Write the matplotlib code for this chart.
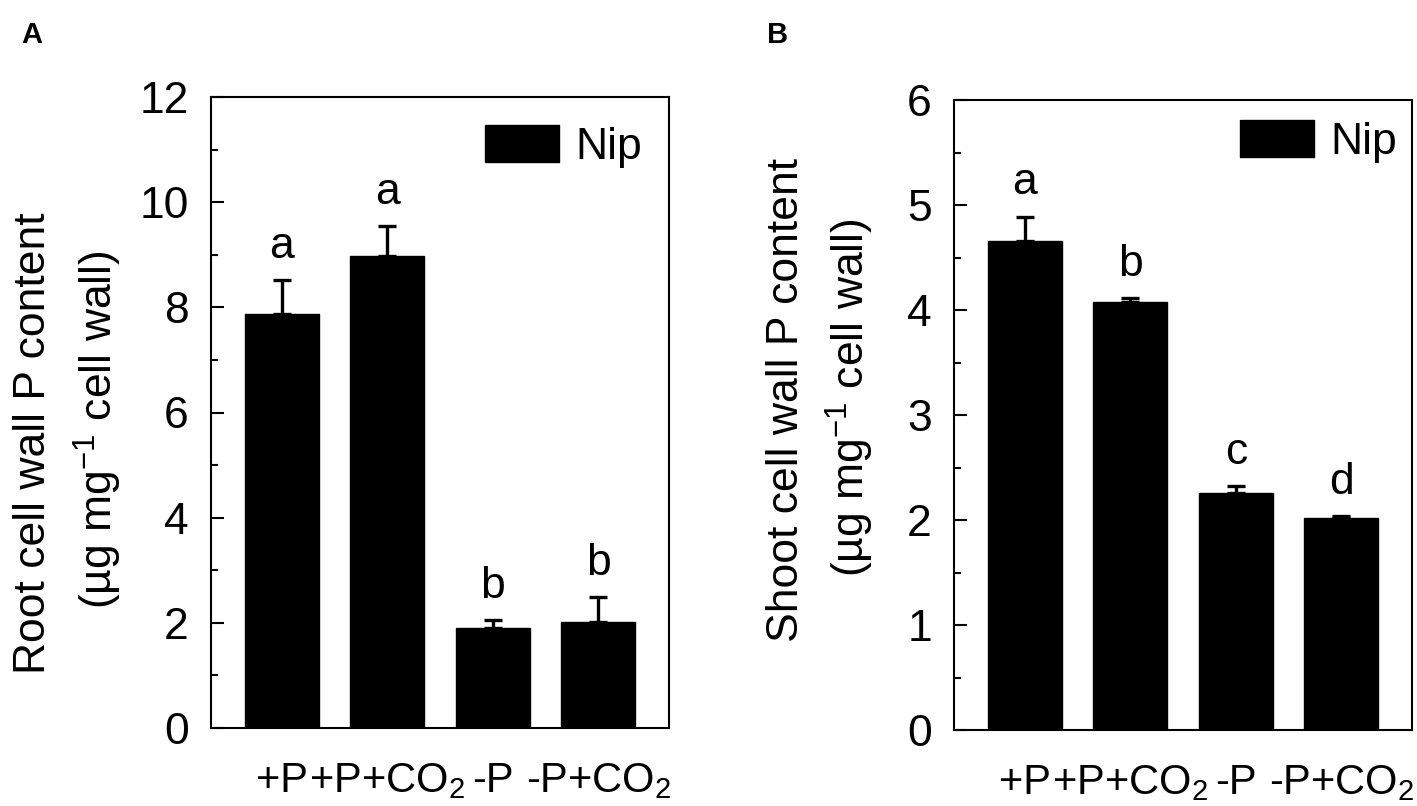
import matplotlib
matplotlib.use("Agg")
import matplotlib.pyplot as plt
from matplotlib.ticker import MultipleLocator
import numpy as np

plt.rcParams['font.family'] = ['Liberation Sans', 'DejaVu Sans']
plt.rcParams['mathtext.fontset'] = 'custom'
plt.rcParams['mathtext.rm'] = 'Liberation Sans'
plt.rcParams['mathtext.it'] = 'Liberation Sans:italic'

# data
treatments = ["+P", "+P+CO$_2$", "-P", "-P+CO$_2$"]
root_mean = [7.87, 8.98, 1.90, 2.02]
root_err = [0.65, 0.57, 0.15, 0.47]
root_letters = ["a", "a", "b", "b"]
shoot_mean = [4.66, 4.08, 2.26, 2.02]
shoot_err = [0.23, 0.03, 0.06, 0.02]
shoot_letters = ["a", "b", "c", "d"]

W, H = 1417, 806
fs = 32

fig = plt.figure(figsize=(W / 100, H / 100), dpi=100)

def px_axes(l, t, r, b):
    return fig.add_axes([l / W, 1 - b / H, (r - l) / W, (b - t) / H])

axA = px_axes(211, 97, 669, 728)
axB = px_axes(954, 100, 1412, 730)


def draw_panel(ax, means, errs, letters, ymax, major, leg_xy):
    x = np.arange(len(treatments))
    ax.bar(x, means, width=0.70, color="black", edgecolor="black",
           yerr=[np.zeros(len(errs)), errs], capsize=6.5,
           error_kw=dict(elinewidth=2.4, capthick=2.4, ecolor="black"),
           label="Nip")
    for xi, m, e, s in zip(x, means, errs, letters):
        ax.annotate(s, (xi, m + e), xytext=(0, 16), textcoords="offset points",
                    ha="center", va="baseline", fontsize=fs)
    ax.set_xlim(-0.67, 3.67)
    ax.set_ylim(0, ymax)
    ax.yaxis.set_major_locator(MultipleLocator(major))
    ax.yaxis.set_minor_locator(MultipleLocator(major / 2))
    ax.set_xticks(x)
    ax.set_xticklabels(treatments)
    ax.tick_params(axis="y", which="major", direction="in", length=9,
                   width=1.5, labelsize=fs, pad=16)
    ax.tick_params(axis="y", which="minor", direction="in", length=5, width=1.5)
    ax.tick_params(axis="x", length=0, labelsize=30, pad=46)
    for lbl in ax.get_xticklabels():
        lbl.set_va("baseline")
    for sp in ax.spines.values():
        sp.set_linewidth(1.5)
    ax.legend(loc="upper right", bbox_to_anchor=leg_xy, frameon=False,
              fontsize=fs, handlelength=1.66, handleheight=0.9,
              handletextpad=0.36, borderpad=0, borderaxespad=0)


draw_panel(axA, root_mean, root_err, root_letters, 12, 2, (0.941, 0.955))
draw_panel(axB, shoot_mean, shoot_err, shoot_letters, 6, 1, (0.967, 0.968))

# two-line y labels
fig.text(34 / W, 1 - 443 / H, "Root cell wall P content", rotation=90,
         ha="center", va="center", fontsize=fs)
fig.text(98 / W, 1 - 430 / H, "(µg mg$^{-1}$ cell wall)", rotation=90,
         ha="center", va="center", fontsize=fs)
fig.text(786 / W, 1 - 400 / H, "Shoot cell wall P content", rotation=90,
         ha="center", va="center", fontsize=fs)
fig.text(850 / W, 1 - 398 / H, "(µg mg$^{-1}$ cell wall)", rotation=90,
         ha="center", va="center", fontsize=fs)

fig.text(21 / W, 1 - 43 / H, "A", fontsize=21, fontweight="bold", va="baseline")
fig.text(767 / W, 1 - 43 / H, "B", fontsize=21, fontweight="bold", va="baseline")

fig.savefig("out.png", dpi=100)
